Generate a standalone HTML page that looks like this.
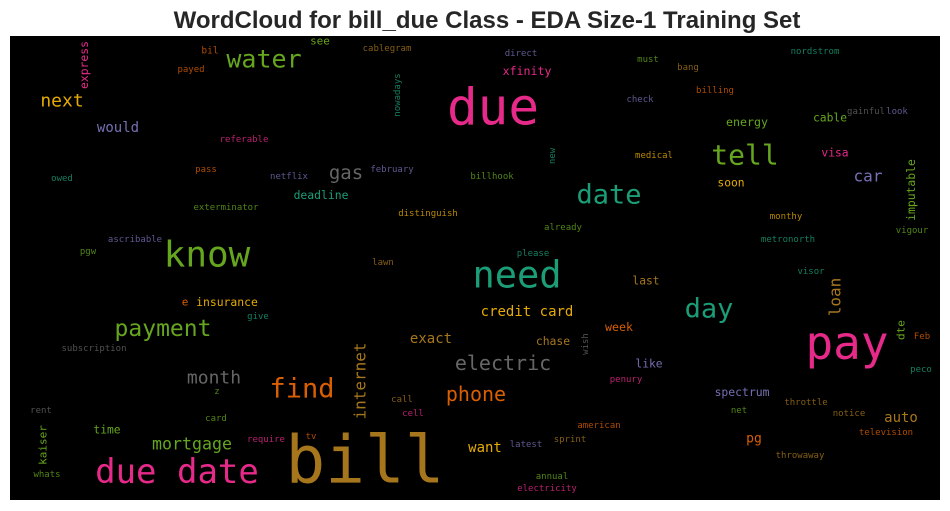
<!DOCTYPE html>
<html><head><meta charset="utf-8"><style>
html,body{margin:0;padding:0;background:#fff;width:950px;height:511px;overflow:hidden}
svg text{font-family:"DejaVu Sans Mono","Liberation Mono",monospace}
</style></head><body>
<svg id="chart" width="950" height="511" viewBox="0 0 950 511" xmlns="http://www.w3.org/2000/svg">
<text x="487" y="28" text-anchor="middle" style="font-family:'Liberation Sans',Arial,sans-serif;font-weight:bold;font-size:24px" fill="#262626">WordCloud for bill_due Class - EDA Size-1 Training Set</text>
<rect x="10" y="36" width="930" height="464" fill="#000"/>
<g id="words"></g>
</svg>
<script>
const C={t:'#1b9e77',o:'#d95f02',p:'#7570b3',k:'#e7298a',g:'#66a61e',y:'#e6ab02',b:'#a6761d',r:'#666666'};
const words=["water","see","bil","cablegram","payed","express","next","would","nowadays","referable","pass","netflix","gas","february","owed","deadline","exterminator","distinguish","ascribable","pgw","know","lawn","due","direct","xfinity","must","bang","nordstrom","billing","check","gainful","look","cable","energy","new","medical","tell","visa","billhook","car","soon","imputable","date","monthy","already","vigour","metronorth","please","need","e","insurance","give","payment","subscription","exact","internet","month","electric","find","z","phone","call","cell","rent","card","time","kaiser","mortgage","require","tv","bill","due date","whats","want","last","visor","credit card","day","loan","week","chase","wish","pay","dte","Feb","like","peco","penury","spectrum","throttle","net","notice","auto","american","television","sprint","latest","pg","throwaway","annual","electricity"];
const sizes=[25,11,9.5,9,9,11.4,18,14,9,9,9,9,19,9,9,11.4,9,9,9,9,36,9,51,9,11.6,9,9,9,9,9,9,9,11.3,11.6,9,9,28,11.3,9,16,11.3,11.4,27,9,9,9,9,9,37,11,11.4,9,23,9,14,16,18,20,27,9,20,9,9,9,9,11.3,11,16.6,9,9,66,34,9,14,11.3,9,14,27,16,11.6,11.4,9,46,11,9,11.3,9,9,11.4,9,9,9,14,9,9,9,9,13,9,9,9];
const colors=["g","g","o","b","o","k","y","p","t","k","o","p","r","p","t","t","g","y","p","g","g","b","k","p","k","g","b","t","o","p","r","p","g","g","t","y","g","k","g","p","y","g","t","y","g","g","t","t","t","o","y","t","g","r","b","b","r","r","o","g","o","b","k","r","g","g","g","g","k","o","b","k","g","y","b","t","y","t","b","o","b","r","k","g","o","p","t","k","p","b","g","b","b","o","o","b","p","o","b","g","k"];
const place=[[264,59],[320,41],[210,51],[387,49],[191,70],[84,65,1],[62,101],[118,128],[398,95,1],[244,140],[206,170],[289,177],[346,173],[392,170],[62,179],[321,195],[226,208],[428,214],[135,240],[88,252],[207,255],[383,263],[493,108],[521,54],[527,71],[648,60],[688,68],[815,52],[715,91],[640,100],[866,112],[897,112],[830,118],[747,122],[553,156,1],[654,156],[745,155],[835,153],[492,177],[868,176],[731,183],[911,190,1],[609,195],[786,217],[563,228],[912,231],[788,240],[533,254],[517,275],[185,302],[227,302],[258,317],[163,329],[94,349],[431,339],[360,381,1],[214,378],[503,363],[302,389],[217,392],[476,394],[402,400],[413,414],[41,411],[216,419],[107,430],[43,445,1],[192,444],[266,440],[311,437],[365,460],[177,472],[47,475],[485,448],[646,281],[811,272],[527,312],[709,309],[835,297,1],[619,327],[553,341],[586,344,1],[847,343],[901,330,1],[922,337],[649,364],[921,370],[626,380],[742,392],[806,403],[739,411],[849,414],[901,418],[599,426],[886,433],[570,440],[526,445],[754,439],[800,456],[552,477],[547,489]];
const g=document.getElementById('words');
const NS='http://www.w3.org/2000/svg';
for(let i=0;i<words.length;i++){
  const [x,y,rot]=place[i];
  const t=document.createElementNS(NS,'text');
  
  
  t.setAttribute('x',x);t.setAttribute('y',y);
  t.setAttribute('text-anchor','middle');
  t.setAttribute('dominant-baseline','central');
  t.setAttribute('font-size',sizes[i]);
  t.setAttribute('fill',C[colors[i]]);
  if(sizes[i]<10)t.setAttribute('opacity','0.8');
  if(rot)t.setAttribute('transform','rotate(-90 '+x+' '+y+')');
  t.textContent=words[i];
  g.appendChild(t);
}
</script>
</body></html>
